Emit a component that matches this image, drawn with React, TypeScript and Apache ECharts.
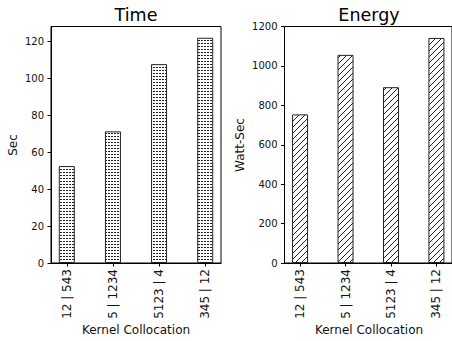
import React, { useEffect, useRef } from "react";
import * as echarts from "echarts";

const categories = ["12 | 543", "5 | 1234", "5123 | 4", "345 | 12"];
const timeValues = [52.5, 71.3, 107.7, 122];
const energyValues = [754, 1056, 892, 1142];
const timeTicks = [0, 20, 40, 60, 80, 100, 120];
const energyTicks = [0, 200, 400, 600, 800, 1000, 1200];

const FONT = "DejaVu Sans";

function makeDots(): HTMLCanvasElement {
  const c = document.createElement("canvas");
  c.width = 3;
  c.height = 3;
  const g = c.getContext("2d")!;
  g.fillStyle = "#fff";
  g.fillRect(0, 0, 3, 3);
  g.fillStyle = "#222";
  g.fillRect(0, 1, 2, 1);
  return c;
}

function makeHatch(): HTMLCanvasElement {
  const s = 6;
  const c = document.createElement("canvas");
  c.width = s;
  c.height = s;
  const g = c.getContext("2d")!;
  g.fillStyle = "#fff";
  g.fillRect(0, 0, s, s);
  g.strokeStyle = "#222";
  g.lineWidth = 1;
  g.beginPath();
  g.moveTo(-1, s + 1);
  g.lineTo(s + 1, -1);
  g.moveTo(-1, 1);
  g.lineTo(1, -1);
  g.moveTo(s - 1, s + 1);
  g.lineTo(s + 1, s - 1);
  g.stroke();
  return c;
}

export default function App() {
  const ref = useRef<HTMLDivElement>(null);
  useEffect(() => {
    if (!ref.current) return;
    const chart = echarts.init(ref.current, null, { renderer: "svg" });
    const dots = makeDots();
    const hatch = makeHatch();
    const xCommon = (gridIndex: number) => ({
      type: "value" as const,
      gridIndex,
      min: -0.3425,
      max: 3.3425,
      splitLine: { show: false },
      axisLine: { onZero: false, lineStyle: { color: "#000", width: 1 } },
      axisTick: {
        show: true,
        inside: false,
        length: 3.5,
        lineStyle: { color: "#000" },
        customValues: [0, 1, 2, 3],
      },
      axisLabel: {
        rotate: 90,
        margin: 6,
        fontFamily: FONT,
        fontSize: 12,
        color: "#111",
        customValues: [0, 1, 2, 3],
        formatter: (v: number) => categories[Math.round(v)] ?? "",
      },
    });
    const yCommon = (gridIndex: number, max: number, ticks: number[]) => ({
      type: "value" as const,
      gridIndex,
      min: 0,
      max,
      splitLine: { show: false },
      axisLine: { show: true, onZero: false, lineStyle: { color: "#000", width: 1 } },
      axisTick: {
        show: true,
        inside: false,
        length: 3.5,
        lineStyle: { color: "#000" },
        customValues: ticks,
      },
      axisLabel: {
        margin: 7,
        fontFamily: FONT,
        fontSize: 10,
        color: "#111",
        customValues: ticks,
        formatter: (v: number) => String(v),
      },
    });
    chart.setOption({
      animation: false,
      backgroundColor: "#fff",
      grid: [
        { left: 51, top: 26.5, width: 170, height: 236.5, show: true, borderColor: "#000", borderWidth: 1, backgroundColor: "transparent" },
        { left: 284.5, top: 26.5, width: 170, height: 236.5, show: true, borderColor: "#000", borderWidth: 1, backgroundColor: "transparent" },
      ],
      xAxis: [xCommon(0), xCommon(1)],
      yAxis: [yCommon(0, 128.1, timeTicks), yCommon(1, 1200, energyTicks)],
      series: [
        {
          type: "bar",
          xAxisIndex: 0,
          yAxisIndex: 0,
          barWidth: 16,
          data: timeValues.map((v, i) => [i, v]),
          itemStyle: {
            color: { image: dots, repeat: "repeat", imageWidth: 3, imageHeight: 3 } as any,
            borderColor: "#222",
            borderWidth: 1,
          },
        },
        {
          type: "bar",
          xAxisIndex: 1,
          yAxisIndex: 1,
          barWidth: 16,
          data: energyValues.map((v, i) => [i, v]),
          itemStyle: {
            color: { image: hatch, repeat: "repeat", imageWidth: 6, imageHeight: 6 } as any,
            borderColor: "#222",
            borderWidth: 1,
          },
        },
      ],
      graphic: [
        { type: "text", x: 136, y: 15, style: { text: "Time", fontFamily: FONT, fontSize: 17.5, fill: "#000", textAlign: "center", textVerticalAlign: "middle" } },
        { type: "text", x: 369, y: 15, style: { text: "Energy", fontFamily: FONT, fontSize: 17.5, fill: "#000", textAlign: "center", textVerticalAlign: "middle" } },
        { type: "text", x: 13, y: 145, rotation: Math.PI / 2, style: { text: "Sec", fontFamily: FONT, fontSize: 12, fill: "#111", textAlign: "center", textVerticalAlign: "middle" } },
        { type: "text", x: 240, y: 145, rotation: Math.PI / 2, style: { text: "Watt-Sec", fontFamily: FONT, fontSize: 12, fill: "#111", textAlign: "center", textVerticalAlign: "middle" } },
        { type: "text", x: 136, y: 330, style: { text: "Kernel Collocation", fontFamily: FONT, fontSize: 12, fill: "#111", textAlign: "center", textVerticalAlign: "middle" } },
        { type: "text", x: 369, y: 330, style: { text: "Kernel Collocation", fontFamily: FONT, fontSize: 12, fill: "#111", textAlign: "center", textVerticalAlign: "middle" } },
      ],
    });
    return () => chart.dispose();
  }, []);
  return (
    <div
      ref={ref}
      style={{ position: "fixed", left: 0, top: 0, width: 452, height: 341, background: "#fff" }}
    />
  );
}
